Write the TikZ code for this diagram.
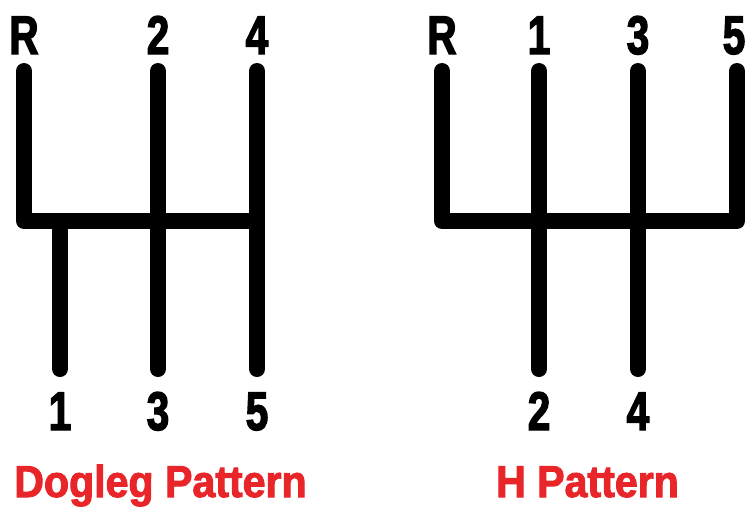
\documentclass[tikz,border=0pt]{standalone}
\usepackage{fontspec}
\usepackage{xcolor}
\usepackage{tikz}
\newfontfamily\gearfont{Liberation Sans Bold}[FakeStretch=0.74,FakeBold=2.5]
\newfontfamily\titlefont{Liberation Sans Bold}[FakeStretch=0.92,FakeBold=2.2]
\definecolor{pattred}{RGB}{232,38,42}
\tikzset{
  gate/.style={line width=16pt, line cap=round, line join=round},
  gearno/.style={font=\gearfont\fontsize{54.5}{60}\selectfont, anchor=base, inner sep=0pt},
  pattname/.style={font=\titlefont\fontsize{44.7}{50}\selectfont, text=pattred,
                   anchor=base, inner sep=0pt},
}

\begin{document}
\begin{tikzpicture}[x=1pt, y=-1pt]
    \useasboundingbox (0,0) rectangle (747,509);
    \coordinate (bar) at (0,221);
    \begin{scope}[shift={(0,0)}]
      \coordinate (dRt) at (24,71);
      \coordinate (d2t) at (158,71);
      \coordinate (d4t) at (257,71);
      \coordinate (d1b) at (60,369);
      \coordinate (d3b) at (158,369);
      \coordinate (d5b) at (257,369);
      \draw[gate] (dRt) |- (d4t |- bar);
      \draw[gate] (d2t) -- (d3b);
      \draw[gate] (d4t) -- (d5b);
      \draw[gate] (d1b |- bar) -- (d1b);
      \node[gearno] (dR) at (24,54) {R};
      \node[gearno] (d2) at (158,54) {2};
      \node[gearno] (d4) at (257,54) {4};
      \node[gearno] (d1) at (60,430) {1};
      \node[gearno] (d3) at (158,430) {3};
      \node[gearno] (d5) at (257,430) {5};
      \node[pattname] (dogleg) at (160.5,497) {Dogleg Pattern};
    \end{scope}
    \begin{scope}[shift={(0,0)}]
      \coordinate (hRt) at (442,71);
      \coordinate (h1t) at (539,71);
      \coordinate (h3t) at (638,71);
      \coordinate (h5t) at (737,71);
      \coordinate (h2b) at (539,369);
      \coordinate (h4b) at (638,369);
      \draw[gate] (hRt) |- (h5t |- bar) -- (h5t);
      \draw[gate] (h1t) -- (h2b);
      \draw[gate] (h3t) -- (h4b);
      \node[gearno] (hR) at (442,54) {R};
      \node[gearno] (h1) at (539,54) {1};
      \node[gearno] (h3) at (638,54) {3};
      \node[gearno] (h5) at (734,54) {5};
      \node[gearno] (h2) at (539,430) {2};
      \node[gearno] (h4) at (638,430) {4};
      \node[pattname] (hpattern) at (587.5,497) {H Pattern};
    \end{scope}
  \end{tikzpicture}
\end{document}
